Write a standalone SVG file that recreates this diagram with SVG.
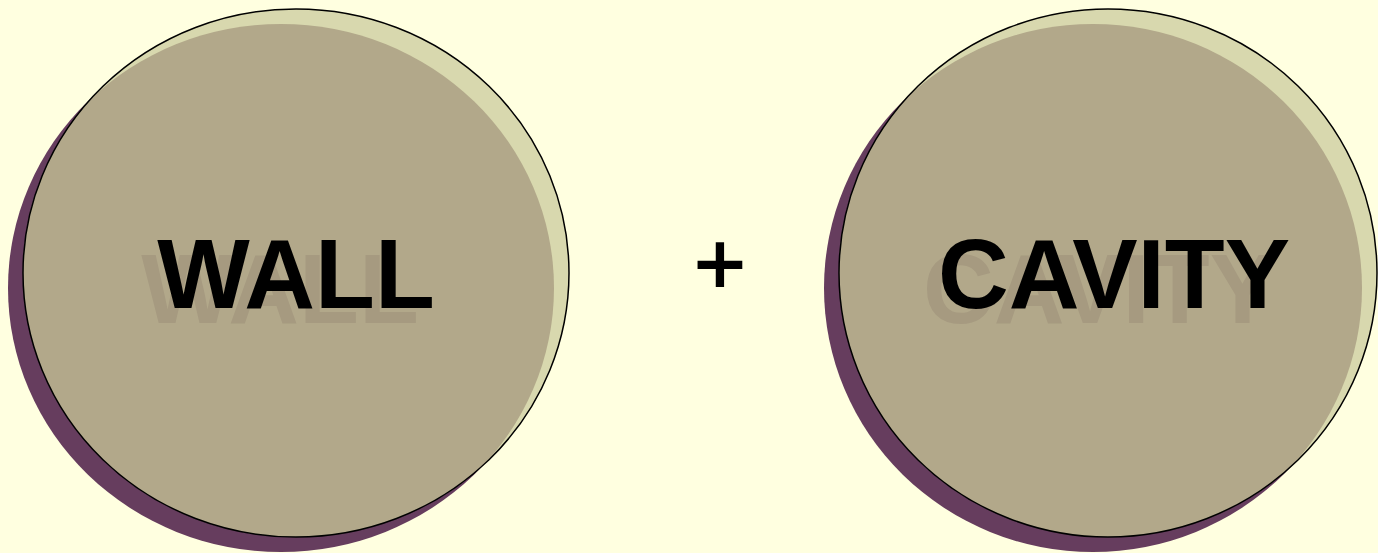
<svg xmlns="http://www.w3.org/2000/svg" width="1378" height="553" viewBox="0 0 1378 553">
<style>
.shadow{fill:#663D5E}
.rim{fill:#D8D8AE}
.face{fill:#B2A88A}
.outline{fill:none;stroke:#000;stroke-width:1.5}
.lbl{font-family:"Liberation Sans",Arial,sans-serif;font-weight:bold;font-size:98px;text-anchor:middle}
.lblsh{fill:#A69A80}
.lblfg{fill:#000}
</style>
<defs>
<clipPath id="c1"><ellipse cx="296" cy="273" rx="273" ry="264"/></clipPath>
<clipPath id="c2"><ellipse cx="1108" cy="273" rx="269" ry="264"/></clipPath>
</defs>
<rect width="1378" height="553" fill="#FFFFE0"/>
<g id="wall">
<ellipse class="shadow" cx="281" cy="288" rx="273" ry="264"/>
<ellipse class="rim" cx="296" cy="273" rx="273" ry="264"/>
<ellipse class="face" cx="281" cy="288" rx="273" ry="264" clip-path="url(#c1)"/>
<ellipse class="outline" cx="296" cy="273" rx="273" ry="264"/>
<text class="lbl lblsh" x="280" y="323">WALL</text>
<text class="lbl lblfg" x="296" y="308">WALL</text>
</g>
<g id="plus">
<text x="720" y="294" font-family="Liberation Sans, Arial, sans-serif" font-size="88" text-anchor="middle" fill="#000" stroke="#000" stroke-width="2">+</text>
</g>
<g id="cavity">
<ellipse class="shadow" cx="1093" cy="288" rx="269" ry="264"/>
<ellipse class="rim" cx="1108" cy="273" rx="269" ry="264"/>
<ellipse class="face" cx="1093" cy="288" rx="269" ry="264" clip-path="url(#c2)"/>
<ellipse class="outline" cx="1108" cy="273" rx="269" ry="264"/>
<text class="lbl lblsh" x="1099" y="323">CAVITY</text>
<text class="lbl lblfg" x="1114" y="308">CAVITY</text>
</g>
<g id="connectors"/>
</svg>
